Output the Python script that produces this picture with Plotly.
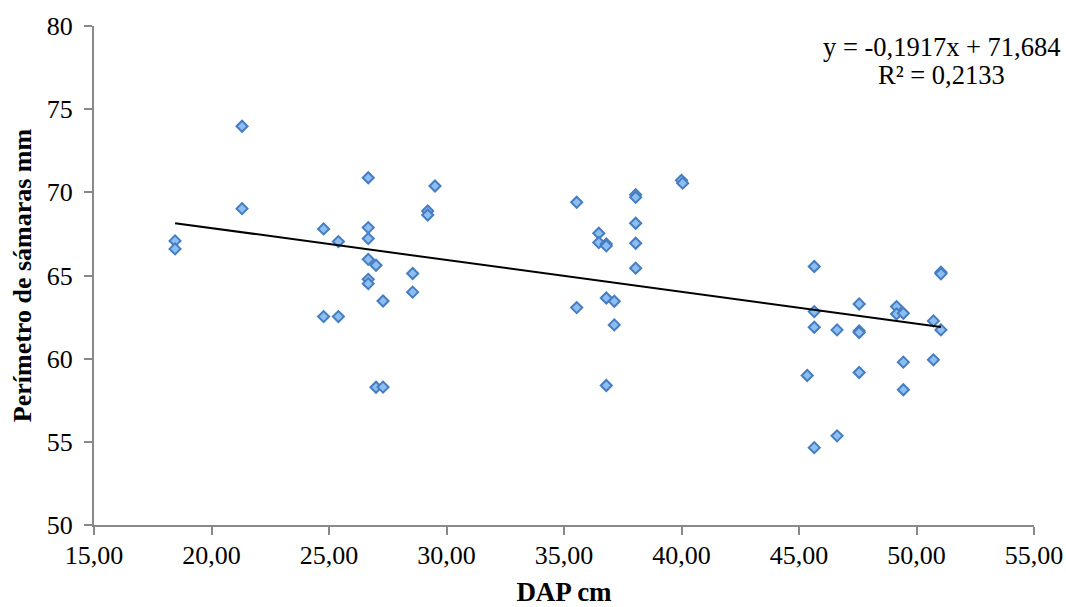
import plotly.graph_objects as go

# DAP (cm) and perimeter of samaras (mm)
dap = [18.45, 18.45,
       21.30, 21.30,
       24.77, 24.77,
       25.40, 25.40,
       26.67, 26.67, 26.67, 26.67, 26.67, 26.67,
       27.00, 27.00,
       27.30, 27.30,
       28.56, 28.56,
       29.20, 29.20,
       29.51,
       35.54, 35.54,
       36.48, 36.48,
       36.80, 36.80, 36.80, 36.80,
       37.14, 37.14,
       38.05, 38.05, 38.05, 38.05, 38.05,
       40.00, 40.05,
       45.35,
       45.65, 45.65, 45.65, 45.65,
       46.62, 46.62,
       47.56, 47.56, 47.56, 47.56,
       49.15, 49.15,
       49.44, 49.44, 49.44,
       50.72, 50.72,
       51.04, 51.04, 51.04]

perimetro = [67.08, 66.60,
             73.97, 69.02,
             67.80, 62.53,
             67.04, 62.53,
             70.88, 67.88, 67.22, 65.97, 64.77, 64.51,
             65.62, 58.28,
             63.47, 58.29,
             65.12, 64.00,
             68.88, 68.64,
             70.38,
             69.40, 63.07,
             67.54, 66.98,
             66.90, 66.78, 63.65, 58.39,
             63.45, 62.03,
             69.86, 69.70, 68.14, 66.94, 65.44,
             70.72, 70.55,
             58.99,
             65.54, 62.83, 61.89, 54.65,
             61.73, 55.36,
             63.29, 61.67, 61.57, 59.17,
             63.13, 62.69,
             62.73, 59.79, 58.13,
             62.27, 59.93,
             65.20, 65.10, 61.73]

# Linear trend line coefficients shown on the chart
slope = -0.1917
intercept = 71.684
equation_lines = ["y = -0,1917x + 71,684", "R² = 0,2133"]

x_title = "DAP cm"
y_title = "Perímetro de sámaras mm"

FONT = "Liberation Serif"
AXIS_COLOR = "#898989"

trend_x = [min(dap), max(dap)]
trend_y = [slope * v + intercept for v in trend_x]

fig = go.Figure()
fig.add_trace(go.Scatter(
    x=dap, y=perimetro, mode="markers",
    marker=dict(symbol="diamond", size=8.5,
                color="rgb(141,190,242)",
                line=dict(color="rgb(70,125,192)", width=2)),
    showlegend=False, hoverinfo="x+y"))
fig.add_trace(go.Scatter(
    x=trend_x, y=trend_y, mode="lines",
    line=dict(color="black", width=2),
    showlegend=False, hoverinfo="skip"))

fig.update_layout(
    width=1066, height=607,
    margin=dict(l=94, r=32, t=26, b=82, autoexpand=False),
    paper_bgcolor="white", plot_bgcolor="white",
    font=dict(family=FONT, size=26, color="black"),
    separators=",.",
    xaxis=dict(range=[15, 55], dtick=5, tick0=15, tickformat=".2f",
               automargin=False, ticklabeloverflow="allow",
               showgrid=False, zeroline=False,
               showline=True, linecolor=AXIS_COLOR, linewidth=2,
               ticks="outside", ticklen=8, tickwidth=2, tickcolor=AXIS_COLOR,
               tickfont=dict(family=FONT, size=26),
               ticklabelstandoff=-2,
               title=dict(text="<b>" + x_title + "</b>",
                          font=dict(family=FONT, size=27), standoff=20)),
    yaxis=dict(range=[50, 80], dtick=5, tick0=50,
               automargin=False,
               showgrid=False, zeroline=False,
               showline=True, linecolor=AXIS_COLOR, linewidth=2,
               ticks="outside", ticklen=8, tickwidth=2, tickcolor=AXIS_COLOR,
               tickfont=dict(family=FONT, size=26),
               ticklabelstandoff=6,
               title=dict(text="<b>" + y_title + "</b>",
                          font=dict(family=FONT, size=26), standoff=8)),
    annotations=[
        dict(text=equation_lines[0], xref="paper", yref="paper",
             x=0.902, y=0.958, xanchor="center", yanchor="middle",
             showarrow=False, font=dict(family=FONT, size=26.5, color="black")),
        dict(text=equation_lines[1], xref="paper", yref="paper",
             x=0.902, y=0.902, xanchor="center", yanchor="middle",
             showarrow=False, font=dict(family=FONT, size=26.5, color="black")),
    ],
)

# remove the default page margin so the 1066x607 figure fills the window
fig.write_html("out.html",
               config=dict(displayModeBar=False),
               post_script="document.body.style.margin='0';"
                           "document.body.style.overflow='hidden';")
